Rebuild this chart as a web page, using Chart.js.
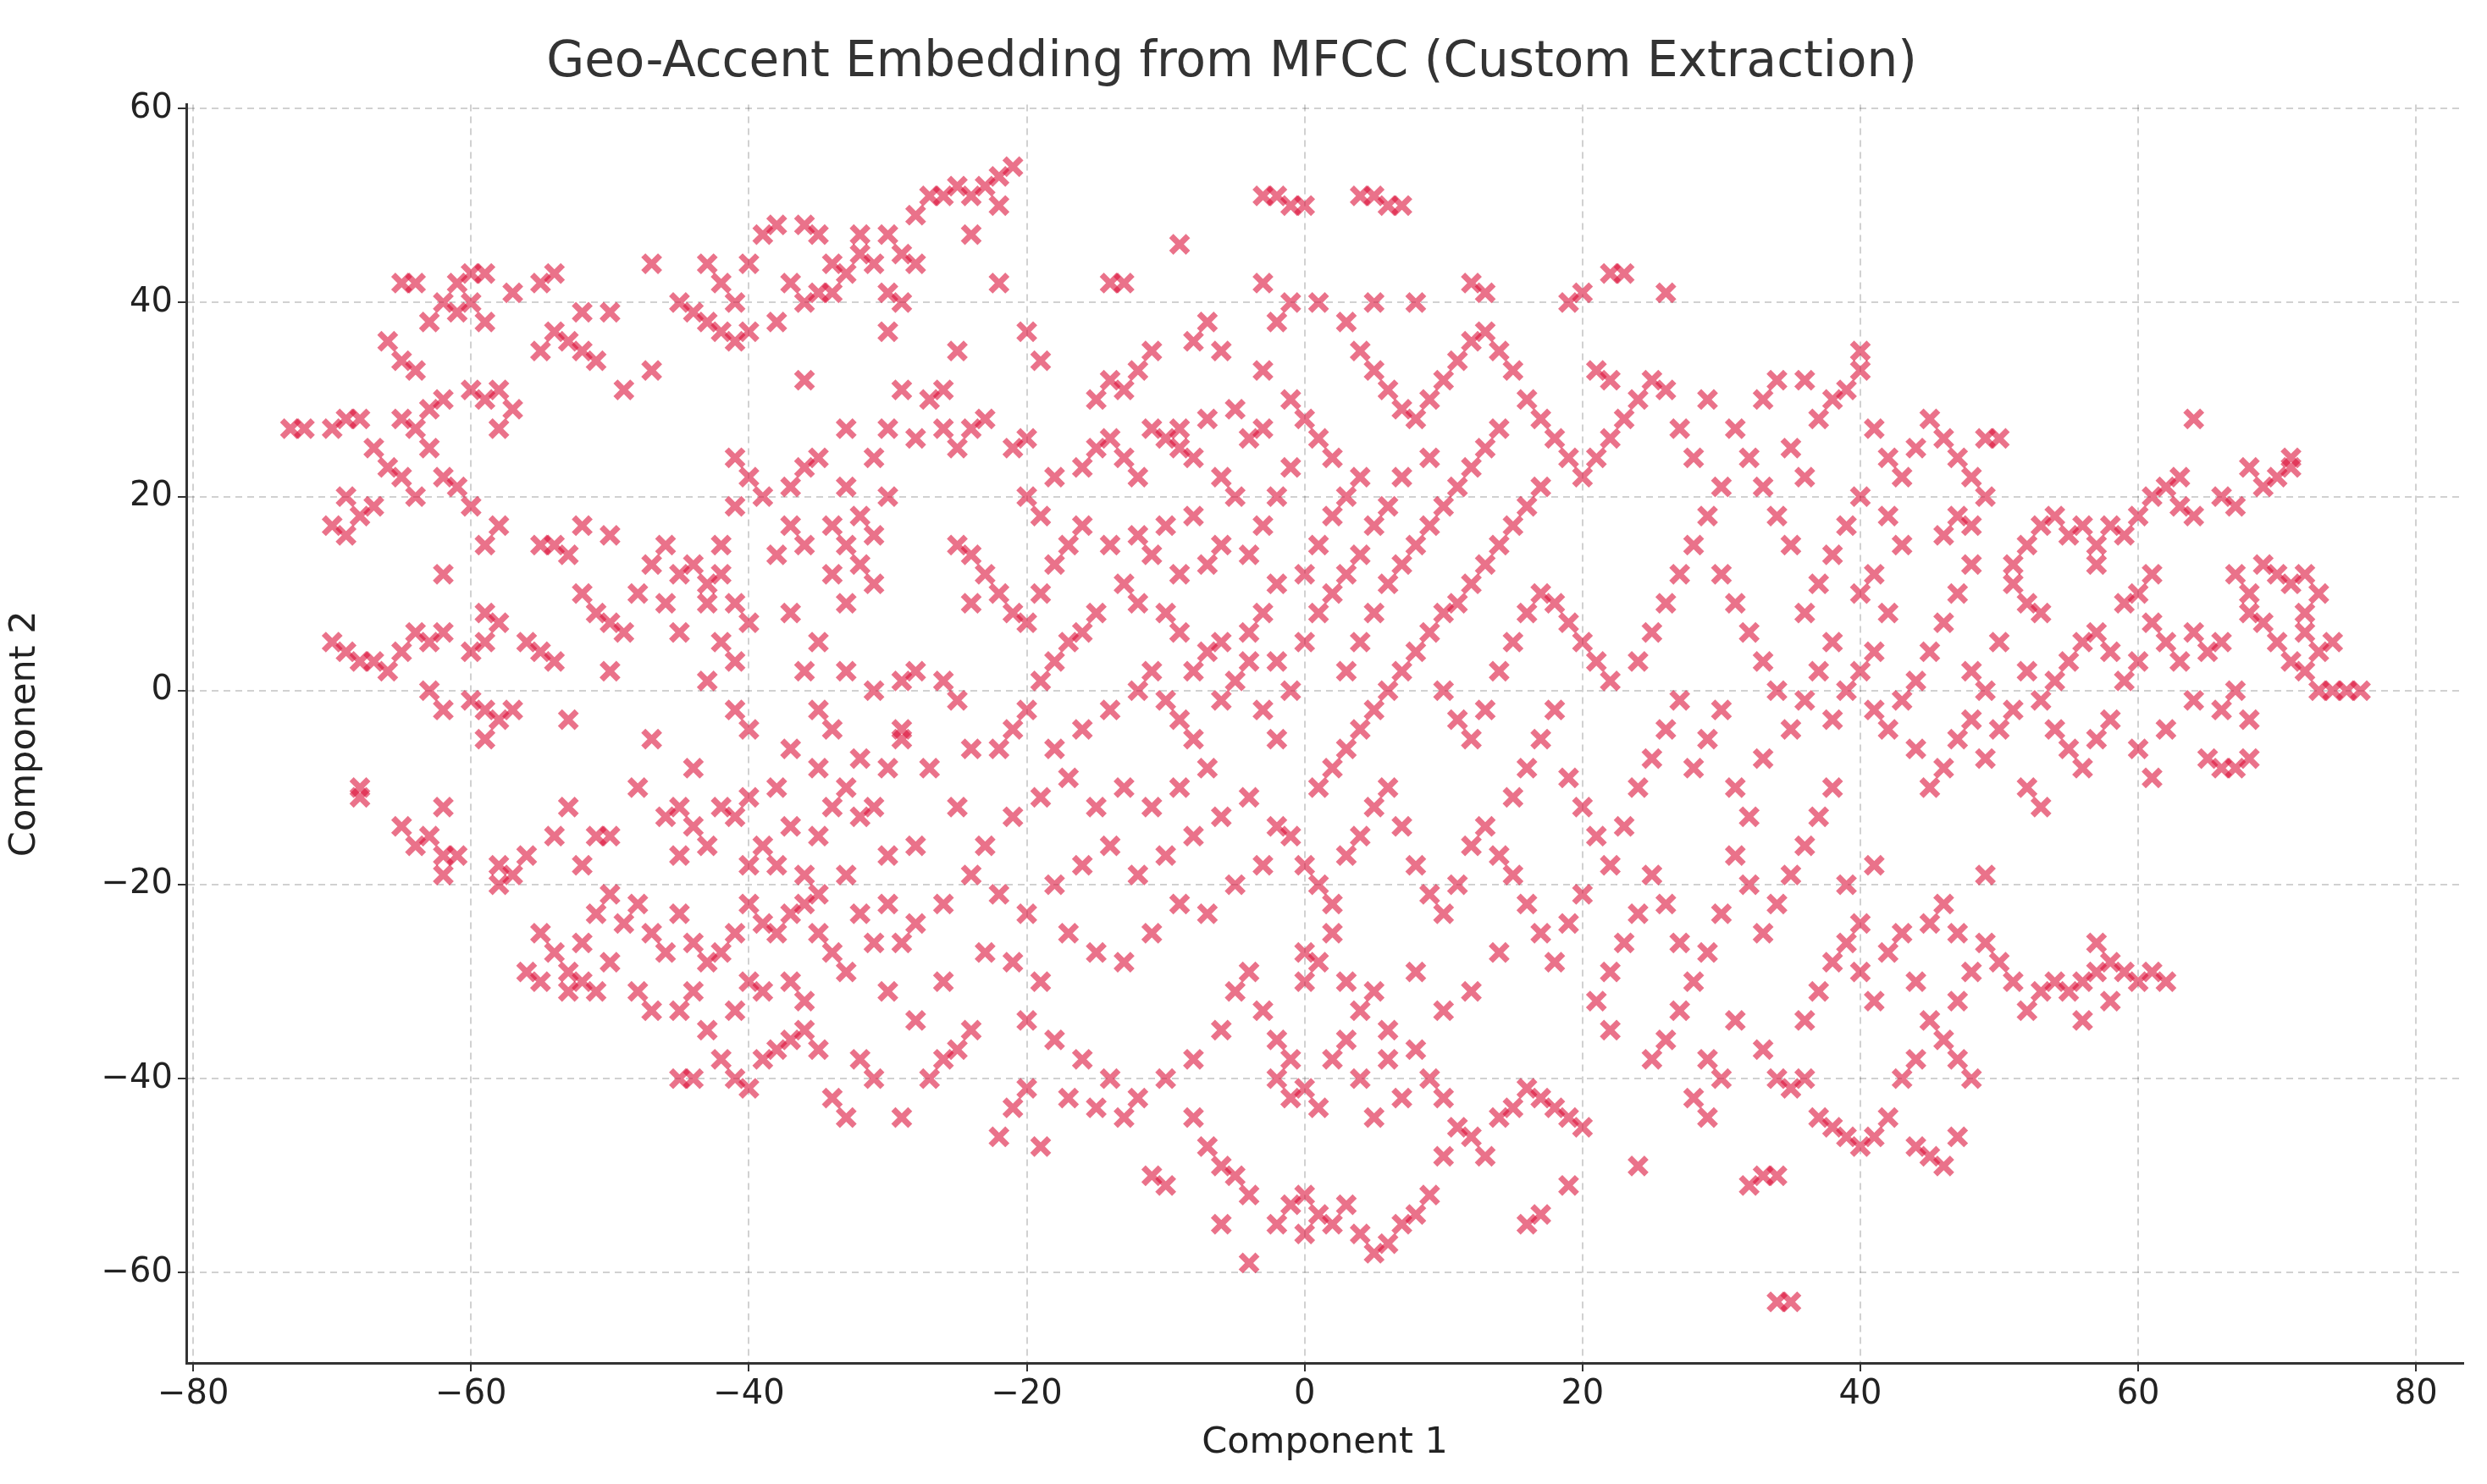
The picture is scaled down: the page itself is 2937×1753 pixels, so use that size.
<!DOCTYPE html>
<html><head><meta charset="utf-8">
<script src="https://cdn.jsdelivr.net/npm/chart.js@4"></script>
<style>html,body{margin:0;padding:0;background:#fff}#w{width:2937px;height:1753px}</style>
</head><body><div id="w"><canvas id="c"></canvas></div>
<script>
const chartTitle = "Geo-Accent Embedding from MFCC (Custom Extraction)";
const xLabel = "Component 1";
const yLabel = "Component 2";
const xTicks = [-80,-60,-40,-20,0,20,40,60,80];
const yTicks = [-60,-40,-20,0,20,40,60];
const embedding = [
[-73,27],[-72,27],[-70,27],[-69,28],[-68,28],[-67,25],[-66,23],[-65,22],[-64,20],[-66,36],[-65,34],[-64,33],[-63,38],[-62,40],[-61,42],[-60,43],[-59,43],[-60,40],[-61,39],[-59,38],[-58,31],[-59,30],[-60,31],[-62,30],[-63,29],[-64,27],[-65,28],[-62,22],[-61,21],[-60,19],[-58,17],[-59,15],[-62,12],[-64,42],[-65,42],[-57,41],[-55,42],[-54,43],[-54,37],[-53,36],[-52,35],[-51,34],[-50,39],[-52,39],[-55,35],[-49,31],[-47,33],[-47,44],[-69,20],[-70,17],[-69,16],[-68,18],[-67,19],[-63,25],[-58,27],[-57,29],
[-70,5],[-69,4],[-68,3],[-67,3],[-66,2],[-65,4],[-64,6],[-63,5],[-62,6],[-63,0],[-62,-2],[-60,-1],[-59,-2],[-58,-3],[-57,-2],[-60,4],[-59,5],[-58,7],[-56,5],[-55,4],[-54,3],[-59,8],[-68,-11],[-68,-10],[-65,-14],[-64,-16],[-62,-17],[-61,-17],[-63,-15],[-62,-12],[-58,-18],[-57,-19],[-58,-20],[-56,-17],[-59,-5],[-62,-19],[-53,-3],[-50,2],[-51,8],[-52,10],[-53,14],[-55,15],[-54,15],[-52,17],[-50,16],[-49,6],[-50,7],[-48,10],[-47,13],[-46,15],[-45,12],[-44,13],[-43,11],[-42,12],[-46,9],[-45,6],[-43,9],[-41,9],[-40,7],[-42,5],[-41,3],[-43,1],[-41,-2],[-40,-4],[-44,-8],[-45,-12],[-46,-13],[-44,-14],[-42,-12],[-40,-11],[-41,-13],[-43,-16],[-45,-17],[-48,-10],[-50,-15],[-51,-15],[-53,-12],[-54,-15],[-52,-18],[-47,-5],[-42,15],[-41,19],[-39,20],[-41,24],[-40,22],[-37,21],[-36,23],[-35,24],[-37,17],[-36,15],[-38,14],[-34,17],[-33,15],[-32,13],[-31,11],[-34,12],[-33,9],[-31,16],[-32,18],[-33,21],[-31,24],[-33,27],[-30,20],[-37,8],[-35,5],[-36,2],[-35,-2],[-37,-6],[-38,-10],[-35,-8],[-34,-4],[-33,2],[-31,0],[-29,1],[-28,2],[-26,1],[-25,-1],[-29,-4],[-30,-8],[-31,-12],[-32,-13],[-30,-17],[-28,-16],[-29,-5],[-35,-15],
[-45,40],[-44,39],[-43,38],[-42,37],[-41,36],[-40,37],[-41,40],[-42,42],[-43,44],[-40,44],[-39,47],[-38,48],[-36,48],[-35,47],[-34,44],[-33,43],[-34,41],[-35,41],[-37,42],[-36,40],[-38,38],[-32,45],[-31,44],[-32,47],[-30,47],[-29,45],[-30,41],[-28,44],[-28,49],[-27,51],[-26,51],[-25,52],[-24,51],[-23,52],[-22,53],[-21,54],[-22,50],[-24,47],[-30,37],[-29,40],[-36,32],[-22,42],[-20,37],[-19,34],[-25,35],[-26,31],[-27,30],[-29,31],[-30,27],[-28,26],[-26,27],[-25,25],[-24,27],[-23,28],[-21,25],[-20,26],
[-55,-25],[-54,-27],[-53,-29],[-52,-30],[-51,-31],[-53,-31],[-55,-30],[-56,-29],[-52,-26],[-50,-28],[-49,-24],[-50,-21],[-51,-23],[-48,-22],[-47,-25],[-46,-27],[-45,-23],[-44,-26],[-43,-28],[-42,-27],[-41,-25],[-40,-22],[-39,-24],[-38,-25],[-37,-23],[-36,-22],[-35,-25],[-34,-27],[-33,-29],[-35,-21],[-33,-19],[-32,-23],[-31,-26],[-30,-22],[-29,-26],[-44,-31],[-45,-33],[-43,-35],[-42,-38],[-41,-40],[-40,-41],[-39,-38],[-38,-37],[-37,-36],[-36,-35],[-35,-37],[-34,-42],[-33,-44],[-41,-33],[-40,-30],[-39,-31],[-37,-30],[-36,-32],[-32,-38],[-31,-40],[-30,-31],[-29,-44],[-28,-34],[-27,-40],[-26,-38],[-25,-37],[-24,-35],[-44,-40],[-45,-40],[-47,-33],[-48,-31],[-38,-18],[-37,-14],[-39,-16],[-40,-18],[-36,-19],[-34,-12],[-33,-10],[-32,-7],[-27,-8],[-25,-12],[-24,-6],[-26,-22],[-28,-24],
[-25,15],[-24,14],[-23,12],[-22,10],[-24,9],[-21,8],[-20,7],[-19,10],[-18,13],[-17,15],[-16,17],[-19,18],[-20,20],[-18,22],[-16,23],[-15,25],[-14,26],[-13,24],[-12,22],[-11,27],[-10,26],[-9,25],[-8,24],[-9,27],[-7,28],[-13,31],[-12,33],[-14,32],[-15,30],[-11,35],[-8,36],[-7,38],[-6,35],[-9,46],[-14,42],[-13,42],[-5,29],[-4,26],[-3,27],[-6,22],[-5,20],[-8,18],[-10,17],[-12,16],[-14,15],[-11,14],[-9,12],[-7,13],[-6,15],[-4,14],[-3,17],[-2,20],[-1,23],[-2,11],[-3,8],[-4,6],[-6,5],[-7,4],[-8,2],[-9,6],[-10,8],[-12,9],[-13,11],[-15,8],[-16,6],[-17,5],[-18,3],[-19,1],[-20,-2],[-21,-4],[-22,-6],[-18,-6],[-16,-4],[-14,-2],[-12,0],[-11,2],[-10,-1],[-9,-3],[-8,-5],[-6,-1],[-5,1],[-4,3],[-3,-2],[-2,-5],[-1,0],[-2,3],[-7,-8],[-9,-10],[-11,-12],[-13,-10],[-15,-12],[-17,-9],[-19,-11],[-21,-13],[-23,-16],[-24,-19],[-22,-21],[-20,-23],[-18,-20],[-16,-18],[-14,-16],[-12,-19],[-10,-17],[-8,-15],[-6,-13],[-4,-11],[-2,-14],[-3,-18],[-5,-20],[-7,-23],[-9,-22],[-11,-25],[-13,-28],[-15,-27],[-17,-25],[-19,-30],[-21,-28],[-23,-27],[-26,-30],[-20,-34],[-18,-36],[-16,-38],[-14,-40],[-12,-42],[-10,-40],[-8,-38],[-6,-35],[-5,-31],[-4,-29],[-3,-33],[-2,-36],[-1,-38],[-13,-44],[-15,-43],[-17,-42],[-20,-41],[-21,-43],[-22,-46],[-19,-47],[-11,-50],[-10,-51],[-8,-44],[-7,-47],[-6,-49],[-5,-50],[-4,-52],[-6,-55],[-4,-59],[-2,-55],[-1,-53],[0,-52],[1,-54],[0,-56],[2,-55],[3,-53],[4,-56],[5,-58],[6,-57],[7,-55],[8,-54],[-2,-40],[-1,-42],[0,-41],[1,-43],[2,-38],[3,-36],[4,-40],[5,-44],[6,-38],[7,-42],[0,-30],[1,-28],[0,-27],[2,-25],[3,-30],[4,-33],[5,-31],[6,-35],[8,-37],[9,-40],[10,-42],[11,-45],[12,-46],[13,-48],[14,-44],[15,-43],[16,-41],[17,-42],[18,-43],[19,-44],[20,-45],[19,-51],[16,-55],[17,-54],[9,-52],[10,-48],[-1,-15],[0,-18],[1,-20],[2,-22],[3,-17],[4,-15],[5,-12],[6,-10],[7,-14],[8,-18],[9,-21],[10,-23],[11,-20],[12,-16],[13,-14],[14,-17],[15,-19],[16,-22],[17,-25],[18,-28],[19,-24],[20,-21],[14,-27],[12,-31],[10,-33],[8,-29],
[0,5],[1,8],[2,10],[0,12],[1,15],[2,18],[3,20],[4,22],[2,24],[1,26],[0,28],[-1,30],[-3,33],[-2,38],[-3,42],[-1,40],[1,40],[3,38],[4,35],[5,33],[6,31],[7,29],[8,28],[9,30],[10,32],[11,34],[12,36],[13,37],[14,35],[15,33],[12,42],[13,41],[8,40],[5,40],[-3,51],[-2,51],[-1,50],[0,50],[4,51],[5,51],[6,50],[7,50],[16,30],[17,28],[18,26],[19,24],[20,22],[21,24],[22,26],[23,28],[24,30],[22,32],[21,33],[25,32],[26,31],[22,43],[23,43],[26,41],[20,41],[19,40],[17,21],[16,19],[15,17],[14,15],[13,13],[12,11],[11,9],[10,8],[9,6],[8,4],[7,2],[6,0],[5,-2],[4,-4],[3,-6],[2,-8],[1,-10],[3,2],[4,5],[5,8],[6,11],[7,13],[8,15],[9,17],[10,19],[11,21],[12,23],[13,25],[14,27],[9,24],[7,22],[6,19],[5,17],[4,14],[3,12],[10,0],[11,-3],[12,-5],[13,-2],[14,2],[15,5],[16,8],[17,10],[18,9],[19,7],[20,5],[21,3],[22,1],[18,-2],[17,-5],[16,-8],[15,-11],[19,-9],[20,-12],[21,-15],[22,-18],[23,-14],[24,-10],[25,-7],[26,-4],[27,-1],[24,3],[25,6],[26,9],[27,12],[28,15],[29,18],[30,21],[28,24],[27,27],[29,30],[31,27],[32,24],[33,21],[34,18],[35,15],[30,12],[31,9],[32,6],[33,3],[34,0],[30,-2],[29,-5],[28,-8],[31,-10],[32,-13],[33,-7],[35,-4],[36,-1],[37,2],[38,5],[36,8],[37,11],[38,14],[39,17],[40,20],[36,22],[35,25],[37,28],[38,30],[39,31],[40,33],[40,35],[34,32],[33,30],[36,32],[41,27],[42,24],[43,22],[44,25],[45,28],[46,26],[47,24],[48,22],[49,26],[50,26],[42,18],[43,15],[41,12],[40,10],[42,8],[41,4],[40,2],[39,0],[38,-3],[41,-2],[42,-4],[43,-1],[44,1],[45,4],[46,7],[47,10],[48,13],[46,16],[47,18],[48,17],[49,20],[44,-6],[45,-10],[46,-8],[47,-5],[48,-3],[49,-7],[50,-4],[38,-10],[37,-13],[36,-16],[35,-19],[34,-22],[33,-25],[32,-20],[31,-17],[30,-23],[29,-27],[28,-30],[27,-26],[26,-22],[25,-19],[24,-23],[23,-26],[22,-29],[21,-32],[22,-35],[25,-38],[26,-36],[27,-33],[29,-38],[28,-42],[29,-44],[30,-40],[31,-34],[33,-37],[34,-40],[35,-41],[36,-40],[37,-44],[38,-45],[39,-46],[40,-47],[41,-46],[42,-44],[44,-47],[45,-48],[46,-49],[47,-46],[34,-50],[33,-50],[32,-51],[24,-49],[34,-63],[35,-63],[36,-34],[37,-31],[38,-28],[39,-26],[40,-29],[41,-32],[42,-27],[43,-25],[44,-30],[45,-34],[46,-36],[47,-32],[48,-29],[49,-26],[50,-28],[51,-30],[52,-33],[45,-24],[46,-22],[47,-25],[49,-19],[48,-40],[47,-38],[44,-38],[43,-40],[40,-24],[39,-20],[41,-18],[53,-31],[54,-30],[55,-31],[56,-30],[57,-29],[58,-28],[59,-29],[60,-30],[61,-29],[62,-30],[57,-26],[56,-34],[58,-32],
[51,13],[52,15],[53,17],[54,18],[55,16],[56,17],[57,15],[58,17],[59,16],[60,18],[61,20],[62,21],[63,19],[64,18],[63,22],[64,28],[66,20],[67,19],[68,23],[69,21],[70,22],[71,23],[71,24],[69,13],[70,12],[71,11],[72,12],[73,10],[72,8],[67,12],[68,10],[68,8],[69,7],[70,5],[71,3],[72,2],[73,0],[74,0],[75,0],[76,0],[73,4],[74,5],[72,6],[66,5],[65,4],[64,6],[63,3],[62,5],[61,7],[60,3],[59,1],[58,4],[57,6],[56,5],[55,3],[54,1],[53,-1],[52,2],[54,-4],[55,-6],[56,-8],[57,-5],[58,-3],[60,-6],[61,-9],[62,-4],[64,-1],[66,-2],[67,0],[68,-3],[65,-7],[66,-8],[67,-8],[68,-7],[60,10],[61,12],[59,9],[57,13],[53,8],[52,9],[51,11],[50,5],[49,0],[48,2],[51,-2],[53,-12],[52,-10]
];
const pointColor = "rgba(220,20,60,0.6)";
const F = "'DejaVu Sans', sans-serif";
const gridOpts = { color: 'rgba(0,0,0,0.18)', lineWidth: 2, tickColor: '#333', tickLength: 10, tickWidth: 2 };
new Chart(document.getElementById('c'), {
  type: 'scatter',
  data: { datasets: [{ data: embedding.map(p => ({x:p[0], y:p[1]})),
    pointStyle: 'crossRot', radius: 14, borderWidth: 7,
    borderColor: pointColor, backgroundColor: pointColor }] },
  options: {
    responsive: true, maintainAspectRatio: false, animation: false,
    layout: { padding: { left: 0, right: 28, top: 0, bottom: 18 } },
    plugins: {
      legend: { display: false }, tooltip: { enabled: false },
      title: { display: true, text: chartTitle, color: '#333',
        font: { family: F, size: 58, weight: 'normal' }, padding: { top: 40, bottom: 14 } }
    },
    scales: {
      x: { type: 'linear', min: -80.5, max: 83.4,
        afterBuildTicks: s => { s.ticks = xTicks.map(v => ({value: v})); },
        afterFit: s => { s.height = 125; },
        grid: gridOpts,
        border: { display: true, color: '#333', width: 3, dash: [8,6] },
        ticks: { color: '#222', font: { family: F, size: 40 }, padding: 4,
          callback: v => String(v).replace('-', '\u2212') },
        title: { display: true, text: xLabel, color: '#222', font: { family: F, size: 43 }, padding: { top: 0 } }
      },
      y: { type: 'linear', min: -69.3, max: 60.4,
        afterBuildTicks: s => { s.ticks = yTicks.map(v => ({value: v})); },
        afterFit: s => { s.width = 220; },
        grid: gridOpts,
        border: { display: true, color: '#333', width: 3, dash: [8,6] },
        ticks: { color: '#222', font: { family: F, size: 40 }, padding: 6,
          callback: v => String(v).replace('-', '\u2212') },
        title: { display: true, text: yLabel, color: '#222', font: { family: F, size: 43 }, padding: { bottom: 10 } }
      }
    }
  }
});
</script></body></html>
